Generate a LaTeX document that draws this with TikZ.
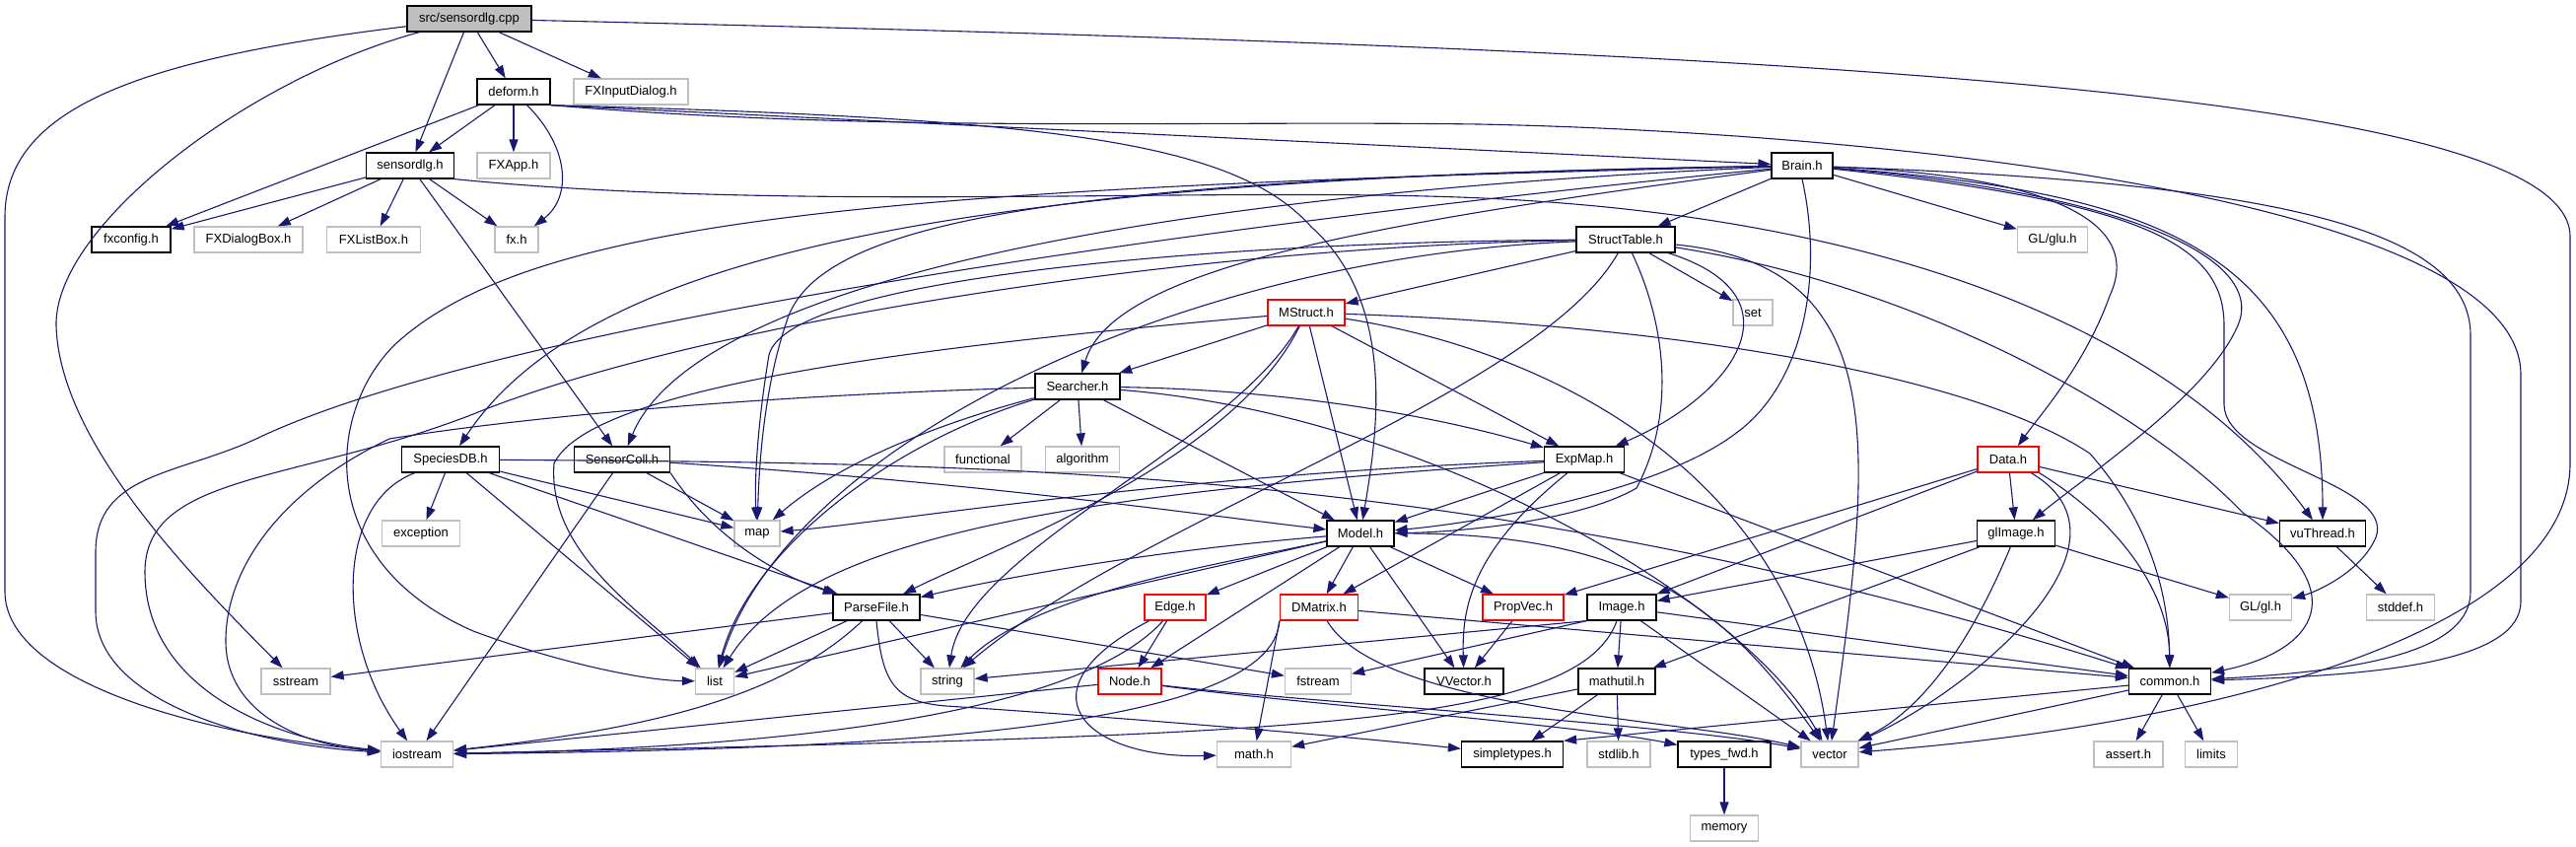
\documentclass[tikz,border=0pt]{standalone}
\usepackage{fontspec}
\setmainfont{Liberation Sans}
\usetikzlibrary{arrows.meta}
\definecolor{edgec}{HTML}{191970}
\definecolor{extc}{HTML}{BFBFBF}
\definecolor{redc}{HTML}{FF0000}
\tikzset{
  nbox/.style={draw, rectangle, minimum height=26pt, inner sep=0pt, line width=1.3pt, font=\fontsize{13}{15}\selectfont},
  docn/.style={nbox, draw=black},
  extn/.style={nbox, draw=extc},
  redn/.style={nbox, draw=redc},
  rootn/.style={nbox, draw=black, fill=extc},
  dep/.style={draw=edgec, line width=1.1pt, -{Triangle[length=13pt,width=9pt]}},
}
\begin{document}
\begin{tikzpicture}[x=1pt,y=-1pt]
\useasboundingbox (0,0) rectangle (2613,859);
% ---- nodes ----
\node[rootn, minimum width=126pt] (src) at (476,19) {src/sensordlg.cpp};
\node[docn, minimum width=74pt] (deform) at (521,93) {deform.h};
\node[extn, minimum width=116pt] (FXInputDialog) at (640,93) {FXInputDialog.h};
\node[docn, minimum width=89pt] (sensordlg) at (416,168) {sensordlg.h};
\node[extn, minimum width=74pt] (FXApp) at (521,168) {FXApp.h};
\node[docn, minimum width=80pt] (fxconfig) at (133,243) {fxconfig.h};
\node[extn, minimum width=110pt] (FXDialogBox) at (252,243) {FXDialogBox.h};
\node[extn, minimum width=95pt] (FXListBox) at (379,243) {FXListBox.h};
\node[extn, minimum width=44pt] (fxh) at (524,243) {fx.h};
\node[docn, minimum width=62pt] (Brain) at (1828,168) {Brain.h};
\node[docn, minimum width=100pt] (StructTable) at (1649,243) {StructTable.h};
\node[extn, minimum width=71pt] (GLglu) at (2082,243) {GL/glu.h};
\node[redn, minimum width=78pt] (MStruct) at (1325,317) {MStruct.h};
\node[extn, minimum width=40pt] (set) at (1778,317) {set};
\node[docn, minimum width=86pt] (Searcher) at (1093,392) {Searcher.h};
\node[docn, minimum width=99pt] (SpeciesDB) at (457,466) {SpeciesDB.h};
\node[docn, minimum width=97pt] (SensorColl) at (631,466) {SensorColl.h};
\node[extn, minimum width=78pt] (functional) at (997,466) {functional};
\node[extn, minimum width=75pt] (algorithm) at (1098,466) {algorithm};
\node[docn, minimum width=81pt] (ExpMap) at (1607,466) {ExpMap.h};
\node[redn, minimum width=62pt] (Data) at (2037,466) {Data.h};
\node[extn, minimum width=79pt] (exception) at (427,541) {exception};
\node[extn, minimum width=46pt] (map) at (768,541) {map};
\node[docn, minimum width=68pt] (Model) at (1380,541) {Model.h};
\node[docn, minimum width=79pt] (glImage) at (2045,541) {glImage.h};
\node[docn, minimum width=87pt] (vuThread) at (2356,541) {vuThread.h};
\node[docn, minimum width=88pt] (ParseFile) at (889,616) {ParseFile.h};
\node[redn, minimum width=62pt] (Edge) at (1192,616) {Edge.h};
\node[redn, minimum width=79pt] (DMatrix) at (1338,616) {DMatrix.h};
\node[redn, minimum width=82pt] (PropVec) at (1545,616) {PropVec.h};
\node[docn, minimum width=70pt] (Image) at (1645,616) {Image.h};
\node[extn, minimum width=63pt] (GLgl) at (2293,616) {GL/gl.h};
\node[extn, minimum width=69pt] (stddef) at (2435,616) {stddef.h};
\node[extn, minimum width=70pt] (sstream) at (300,691) {sstream};
\node[extn, minimum width=39pt] (list) at (725,691) {list};
\node[extn, minimum width=54pt] (string) at (961,691) {string};
\node[redn, minimum width=64pt] (Node) at (1146,691) {Node.h};
\node[extn, minimum width=67pt] (fstream) at (1337,691) {fstream};
\node[docn, minimum width=80pt] (VVector) at (1485,691) {VVector.h};
\node[docn, minimum width=78pt] (mathutil) at (1640,691) {mathutil.h};
\node[docn, minimum width=83pt] (common) at (2201,691) {common.h};
\node[extn, minimum width=73pt] (iostream) at (423,765) {iostream};
\node[extn, minimum width=75pt] (math) at (1272,765) {math.h};
\node[docn, minimum width=103pt] (simpletypes) at (1534,765) {simpletypes.h};
\node[extn, minimum width=64pt] (stdlib) at (1642,765) {stdlib.h};
\node[docn, minimum width=94pt] (typesfwd) at (1749,765) {types\_fwd.h};
\node[extn, minimum width=58pt] (vector) at (1856,765) {vector};
\node[extn, minimum width=70pt] (assert) at (2159,765) {assert.h};
\node[extn, minimum width=53pt] (limits) at (2243,765) {limits};
\node[extn, minimum width=69pt] (memory) at (1749,840) {memory};
% ---- src ----
\draw[dep] (src) -- (deform);
\draw[dep] (src) -- (FXInputDialog);
\draw[dep] (src) -- (sensordlg);
\draw[dep] (src) .. controls (140,60) and (5,110) .. (5,220) -- (5,600) .. controls (5,690) and (200,745) .. (iostream);
\draw[dep] (src) .. controls (250,80) and (55,230) .. (57,330) .. controls (60,450) and (200,590) .. (sstream);
\draw[dep] (src) .. controls (1800,50) and (2607,90) .. (2607,240) -- (2607,470) .. controls (2607,640) and (2250,735) .. (vector);
% ---- deform ----
\draw[dep] (deform) -- (sensordlg);
\draw[dep] (deform) -- (fxconfig);
\draw[dep] (deform) -- (FXApp);
\draw[dep] (deform) .. controls (578,150) and (580,200) .. (fxh);
\draw[dep] (deform.south east) -- (Brain);
\draw[dep] (deform.south east) .. controls (1050,120) and (1250,140) .. (1330,230) .. controls (1420,310) and (1395,450) .. (Model);
\draw[dep] (deform.south east) .. controls (900,135) and (1200,122) .. (1500,126) .. controls (1900,134) and (2557,200) .. (2557,380) -- (2557,610) .. controls (2557,670) and (2420,685) .. (common);
% ---- sensordlg ----
\draw[dep] (sensordlg) -- (fxconfig);
\draw[dep] (sensordlg) -- (FXDialogBox);
\draw[dep] (sensordlg) -- (FXListBox);
\draw[dep] (sensordlg) -- (fxh);
\draw[dep] (sensordlg) -- (SensorColl);
\draw[dep] (sensordlg.south east) .. controls (800,215) and (1200,190) .. (1480,200) .. controls (1900,215) and (2200,330) .. (vuThread);
% ---- Brain ----
\draw[dep] (Brain) -- (StructTable);
\draw[dep] (Brain) -- (GLglu);
\draw[dep] (Brain.south) .. controls (1850,280) and (1830,390) .. (1760,440) .. controls (1680,500) and (1500,530) .. (Model);
\draw[dep] (Brain) .. controls (2080,178) and (2175,225) .. (2140,300) .. controls (2115,370) and (2070,420) .. (Data);
\draw[dep] (Brain) .. controls (2150,195) and (2300,260) .. (2270,330) .. controls (2240,400) and (2120,480) .. (glImage);
\draw[dep] (Brain) .. controls (2200,195) and (2356,260) .. (vuThread);
\draw[dep] (Brain) .. controls (2180,205) and (2256,250) .. (2256,330) -- (2256,410) .. controls (2256,470) and (2430,490) .. (2410,545) .. controls (2395,580) and (2350,600) .. (GLgl);
\draw[dep] (Brain) .. controls (2300,185) and (2506,230) .. (2506,340) -- (2506,600) .. controls (2506,660) and (2400,680) .. (common);
\draw[dep] (Brain) .. controls (1400,225) and (1130,270) .. (Searcher);
\draw[dep] (Brain) .. controls (1100,180) and (840,220) .. (800,320) .. controls (775,390) and (770,470) .. (map);
\draw[dep] (Brain) .. controls (900,190) and (540,220) .. (400,350) .. controls (330,420) and (320,570) .. (480,640) .. controls (560,670) and (650,690) .. (list);
\draw[dep] (Brain) .. controls (1000,180) and (600,250) .. (SpeciesDB);
\draw[dep] (Brain) .. controls (1100,200) and (700,300) .. (SensorColl);
\draw[dep] (Brain) .. controls (1200,230) and (500,330) .. (260,445) .. controls (180,482) and (97,480) .. (97,560) -- (97,620) .. controls (97,710) and (250,755) .. (iostream);
% ---- StructTable ----
\draw[dep] (StructTable) -- (MStruct);
\draw[dep] (StructTable) -- (set);
\draw[dep] (StructTable) .. controls (1830,300) and (1760,400) .. (ExpMap);
\draw[dep] (StructTable) .. controls (1690,330) and (1700,420) .. (1660,495) .. controls (1600,530) and (1470,540) .. (Model);
\draw[dep] (StructTable) .. controls (1920,270) and (1900,450) .. (vector);
\draw[dep] (StructTable) .. controls (1950,290) and (2180,420) .. (2275,520) .. controls (2390,600) and (2350,660) .. (common);
\draw[dep] (StructTable) .. controls (1560,400) and (1150,530) .. (string);
\draw[dep] (StructTable) .. controls (1250,245) and (800,280) .. (780,360) .. controls (770,420) and (765,480) .. (map);
\draw[dep] (StructTable) .. controls (1200,260) and (800,450) .. (list);
\draw[dep] (StructTable) .. controls (1200,250) and (700,330) .. (480,420) .. controls (300,490) and (147,480) .. (147,580) .. controls (147,700) and (280,750) .. (iostream);
% ---- MStruct ----
\draw[dep] (MStruct) -- (Searcher);
\draw[dep] (MStruct) -- (ExpMap);
\draw[dep] (MStruct) -- (Model);
\draw[dep] (MStruct) .. controls (1250,470) and (1000,560) .. (ParseFile);
\draw[dep] (MStruct) .. controls (1250,450) and (980,560) .. (string);
\draw[dep] (MStruct) .. controls (950,350) and (600,390) .. (562,470) .. controls (555,560) and (650,620) .. (list);
\draw[dep] (MStruct) .. controls (1700,330) and (2000,380) .. (2120,460) .. controls (2190,540) and (2200,620) .. (common);
\draw[dep] (MStruct) .. controls (1600,360) and (1820,500) .. (vector);
% ---- Searcher ----
\draw[dep] (Searcher) -- (functional);
\draw[dep] (Searcher) -- (algorithm);
\draw[dep] (Searcher) -- (Model);
\draw[dep] (Searcher) .. controls (1300,395) and (1450,420) .. (ExpMap);
\draw[dep] (Searcher) .. controls (950,430) and (850,470) .. (map);
\draw[dep] (Searcher) .. controls (900,450) and (760,560) .. (list);
\draw[dep] (Searcher) .. controls (800,400) and (550,420) .. (395,445) .. controls (280,500) and (229,580) .. (229,650) .. controls (229,720) and (300,755) .. (iostream);
\draw[dep] (Searcher) .. controls (1450,420) and (1770,610) .. (vector);
% ---- SpeciesDB ----
\draw[dep] (SpeciesDB) -- (exception);
\draw[dep] (SpeciesDB) .. controls (340,510) and (340,650) .. (iostream);
\draw[dep] (SpeciesDB) -- (list);
\draw[dep] (SpeciesDB) -- (ParseFile);
\draw[dep] (SpeciesDB) -- (map);
\draw[dep] (SpeciesDB) .. controls (1000,470) and (1500,470) .. (common);
% ---- SensorColl ----
\draw[dep] (SensorColl) -- (map);
\draw[dep] (SensorColl.south east) .. controls (720,540) and (780,580) .. (ParseFile);
\draw[dep] (SensorColl) -- (iostream);
\draw[dep] (SensorColl) .. controls (1000,490) and (1200,520) .. (Model);
% ---- ExpMap ----
\draw[dep] (ExpMap) -- (Model);
\draw[dep] (ExpMap) -- (DMatrix);
\draw[dep] (ExpMap) .. controls (1490,560) and (1483,620) .. (VVector);
\draw[dep] (ExpMap) .. controls (1200,480) and (900,530) .. (map);
\draw[dep] (ExpMap) .. controls (1100,500) and (820,540) .. (list);
\draw[dep] (ExpMap) -- (common);
% ---- Model ----
\draw[dep] (Model) -- (DMatrix);
\draw[dep] (Model) -- (PropVec);
\draw[dep] (Model) -- (VVector);
\draw[dep] (Model) -- (Edge);
\draw[dep] (Model) -- (Node);
\draw[dep] (Model) .. controls (1150,560) and (1000,590) .. (ParseFile);
\draw[dep] (Model) -- (list);
\draw[dep] (Model) .. controls (1250,570) and (1050,600) .. (string);
\draw[dep] (Model) .. controls (1640,540) and (1740,600) .. (vector);
% ---- Edge / Node ----
\draw[dep] (Edge) -- (Node);
\draw[dep] (Edge) .. controls (1030,700) and (1100,770) .. (math);
\draw[dep] (Edge) .. controls (1080,740) and (700,760) .. (iostream);
\draw[dep] (Node) -- (iostream);
\draw[dep] (Node) .. controls (1300,712) and (1600,735) .. (typesfwd);
\draw[dep] (Node) .. controls (1300,710) and (1700,735) .. (vector);
% ---- DMatrix ----
\draw[dep] (DMatrix.south west) .. controls (1290,740) and (900,760) .. (iostream);
\draw[dep] (DMatrix.south west) -- (math);
\draw[dep] (DMatrix) -- (common);
\draw[dep] (DMatrix) .. controls (1400,720) and (1700,728) .. (vector);
% ---- PropVec / Image ----
\draw[dep] (PropVec) -- (VVector);
\draw[dep] (Image.south west) -- (fstream);
\draw[dep] (Image) -- (mathutil);
\draw[dep] (Image) -- (vector);
\draw[dep] (Image) -- (common);
\draw[dep] (Image.south west) -- (string);
\draw[dep] (Image) .. controls (1600,740) and (1300,745) .. (iostream);
% ---- mathutil ----
\draw[dep] (mathutil) -- (simpletypes);
\draw[dep] (mathutil) -- (stdlib);
\draw[dep] (mathutil) -- (math);
% ---- ParseFile ----
\draw[dep] (ParseFile) -- (sstream);
\draw[dep] (ParseFile) -- (list);
\draw[dep] (ParseFile) -- (string);
\draw[dep] (ParseFile) .. controls (790,710) and (650,740) .. (iostream);
\draw[dep] (ParseFile) -- (fstream);
\draw[dep] (ParseFile.south) .. controls (895,690) and (905,712) .. (960,716) .. controls (1100,725) and (1350,745) .. (simpletypes);
% ---- Data ----
\draw[dep] (Data) -- (glImage);
\draw[dep] (Data) -- (vuThread);
\draw[dep] (Data) -- (Image);
\draw[dep] (Data) -- (PropVec);
\draw[dep] (Data.south east) .. controls (2150,530) and (2200,600) .. (common);
\draw[dep] (Data) .. controls (2180,550) and (2000,700) .. (vector);
% ---- glImage ----
\draw[dep] (glImage) -- (Image);
\draw[dep] (glImage) -- (mathutil);
\draw[dep] (glImage) -- (GLgl);
\draw[dep] (glImage) .. controls (2000,650) and (1950,720) .. (vector);
% ---- common & others ----
\draw[dep] (common) -- (assert);
\draw[dep] (common) -- (limits);
\draw[dep] (common) -- (simpletypes.north east);
\draw[dep] (common) -- (vector);
\draw[dep] (vuThread) -- (stddef);
\draw[dep] (typesfwd) -- (memory);
\end{tikzpicture}
\end{document}
